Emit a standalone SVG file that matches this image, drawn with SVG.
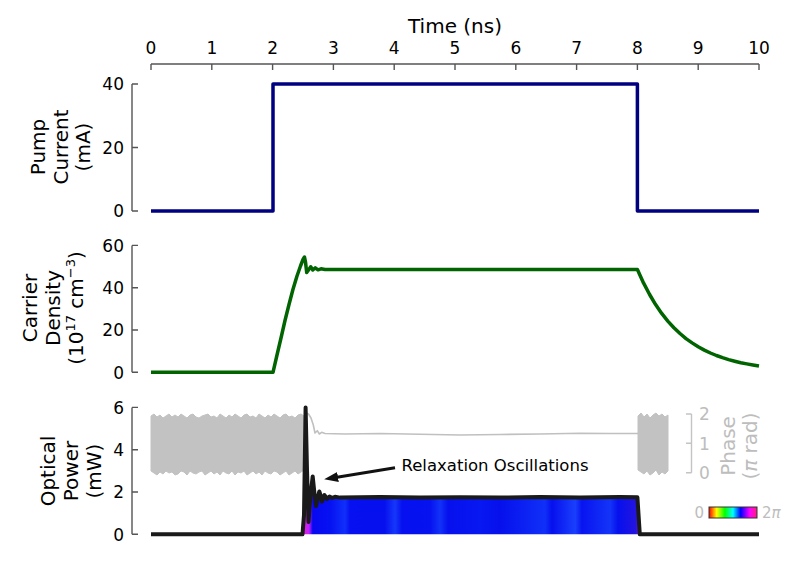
<svg xmlns="http://www.w3.org/2000/svg" width="788" height="563" viewBox="0 0 788 563">
<style>
text{font-family:"DejaVu Sans","Liberation Sans",sans-serif}
.tk{font-size:17px}
.lab{font-size:20px}
.blk{fill:#000}
.gray{fill:#bdbdbd}
.it{font-style:italic}
.ax{stroke:#555;stroke-width:1.4;fill:none}
.pax{stroke:#c4c4c4;stroke-width:1.4;fill:none}
.series{fill:none;stroke-linejoin:round;stroke-linecap:butt}
</style>
<defs>
<linearGradient id="blueFill" gradientUnits="userSpaceOnUse" x1="304" y1="0" x2="640" y2="0">
<stop offset="0" stop-color="#e020e0"/>
<stop offset="0.015" stop-color="#c020ff"/>
<stop offset="0.026" stop-color="#0808f0"/>
<stop offset="0.08" stop-color="#0612f2"/>
<stop offset="0.122" stop-color="#1030fa"/>
<stop offset="0.137" stop-color="#0610f0"/>
<stop offset="0.24" stop-color="#0610ee"/>
<stop offset="0.271" stop-color="#1638fa"/>
<stop offset="0.292" stop-color="#0610f0"/>
<stop offset="0.375" stop-color="#0612f0"/>
<stop offset="0.405" stop-color="#1232f8"/>
<stop offset="0.4286" stop-color="#0610ee"/>
<stop offset="0.524" stop-color="#0818f2"/>
<stop offset="0.583" stop-color="#0610ec"/>
<stop offset="0.717" stop-color="#1030f8"/>
<stop offset="0.738" stop-color="#0610ee"/>
<stop offset="0.807" stop-color="#1a40fc"/>
<stop offset="0.827" stop-color="#0814f0"/>
<stop offset="0.911" stop-color="#1434f8"/>
<stop offset="0.935" stop-color="#0610ee"/>
<stop offset="0.988" stop-color="#2414e0"/>
<stop offset="1" stop-color="#a020d0"/>
</linearGradient>
<linearGradient id="hsv" x1="0" y1="0" x2="1" y2="0">
<stop offset="0" stop-color="#ff0000"/>
<stop offset="0.16" stop-color="#ffff00"/>
<stop offset="0.33" stop-color="#00ff00"/>
<stop offset="0.5" stop-color="#00ffff"/>
<stop offset="0.66" stop-color="#0000ff"/>
<stop offset="0.85" stop-color="#ff00ff"/>
<stop offset="1" stop-color="#ff2080"/>
</linearGradient>
<marker id="arrowHead" markerUnits="userSpaceOnUse" markerWidth="14" markerHeight="10" viewBox="0 0 14 10" refX="1" refY="5" orient="auto">
<path d="M0,0 L14,5 L0,10 z" fill="#111"/>
</marker>
</defs>

<g id="top-axis">
<text class="lab blk" x="455" y="33" text-anchor="middle">Time (ns)</text>
<path class="ax" d="M151,64 H759 M151,64 V70 M211.8,64 V70 M272.6,64 V70 M333.4,64 V70 M394.2,64 V70 M455,64 V70 M515.8,64 V70 M576.6,64 V70 M637.4,64 V70 M698.2,64 V70 M759,64 V70"/>
<g class="tk blk" text-anchor="middle">
<text x="151" y="54">0</text><text x="211.8" y="54">1</text><text x="272.6" y="54">2</text><text x="333.4" y="54">3</text><text x="394.2" y="54">4</text><text x="455" y="54">5</text><text x="515.8" y="54">6</text><text x="576.6" y="54">7</text><text x="637.4" y="54">8</text><text x="698.2" y="54">9</text><text x="759" y="54">10</text>
</g>
</g>

<g id="panel-pump">
<path class="ax" d="M132,84 V211 M132,84 H138 M132,147.5 H138 M132,211 H138"/>
<g class="tk blk" text-anchor="end">
<text x="124" y="90.3">40</text><text x="124" y="153.8">20</text><text x="124" y="217.3">0</text>
</g>
<g class="lab blk" text-anchor="middle">
<text transform="translate(45,147) rotate(-90)">Pump</text>
<text transform="translate(67.5,147) rotate(-90)">Current</text>
<text transform="translate(90,147) rotate(-90)">(mA)</text>
</g>
<path class="series" stroke="#000080" stroke-width="3.5" d="M151,211 H273 V84 H637.4 V211 H759"/>
</g>

<g id="panel-carrier">
<path class="ax" d="M132,245.4 V372.3 M132,245.4 H138 M132,287.7 H138 M132,330 H138 M132,372.3 H138"/>
<g class="tk blk" text-anchor="end">
<text x="124" y="251.7">60</text><text x="124" y="294">40</text><text x="124" y="336.3">20</text><text x="124" y="378.6">0</text>
</g>
<g class="lab blk" text-anchor="middle">
<text transform="translate(36.5,308) rotate(-90)">Carrier</text>
<text transform="translate(59.5,308) rotate(-90)">Density</text>
<text transform="translate(82.5,308) rotate(-90)">(10<tspan font-size="13" dy="-8">17</tspan><tspan dy="8"> cm</tspan><tspan font-size="13" dy="-8">−3</tspan><tspan dy="8">)</tspan></text>
</g>
<path class="series" stroke="#006400" stroke-width="3.5" d="M151,372.3 L273,372.3 L277,355 L281,338 L285,320.5 L289,304.5 L293,289.3 L297,276 L300.5,266 L303,259.5 L304.5,257 L305.5,262 L306.7,272.5 L308.5,270 L310.7,266.8 L312.8,270 L315.3,267.8 L318,269.8 L321,268.8 L325,269.5 L637.4,269.5 L643.5,282.9 L649.6,294.5 L655.6,304.6 L661.7,313.4 L667.8,321.1 L673.9,327.7 L680,333.5 L686,338.6 L692.1,342.9 L698.2,346.8 L704.3,350.1 L710.4,353 L716.4,355.5 L722.5,357.7 L728.6,359.6 L734.7,361.2 L740.8,362.7 L746.8,363.9 L752.9,365 L759,366"/>
</g>

<g id="panel-optical">
<path class="ax" d="M132,407.4 V534.3 M132,407.4 H138 M132,449.7 H138 M132,492 H138 M132,534.3 H138"/>
<g class="tk blk" text-anchor="end">
<text x="124" y="413.7">6</text><text x="124" y="456">4</text><text x="124" y="498.3">2</text><text x="124" y="540.6">0</text>
</g>
<g class="lab blk" text-anchor="middle">
<text transform="translate(55,471) rotate(-90)">Optical</text>
<text transform="translate(78,471) rotate(-90)">Power</text>
<text transform="translate(101,471) rotate(-90)">(mW)</text>
</g>

<g id="phase-trace">
<path fill="#c2c2c2" stroke="#c2c2c2" stroke-width="1" d="M151,416 L154,414 L157,417 L160,415 L163,418 L166,416 L169,414 L172,417 L175,415 L178,417 L181,414 L184,416 L187,418 L190,415 L193,414 L196,417 L199,418 L202,416 L205,415 L208,414 L211,417 L214,416 L217,418 L220,414 L223,416 L226,418 L229,415 L232,417 L235,414 L238,416 L241,418 L244,415 L247,414 L250,417 L253,416 L256,418 L259,414 L262,416 L265,418 L268,415 L271,417 L274,414 L277,416 L280,418 L283,415 L286,414 L289,417 L292,416 L295,418 L298,415 L301,414 L304,416 L304,470 L301,472 L298,474 L295,471 L292,473 L289,475 L286,471 L283,473 L280,475 L277,472 L274,471 L271,474 L268,473 L265,471 L262,475 L259,472 L256,474 L253,471 L250,473 L247,475 L244,471 L241,473 L238,472 L235,475 L232,471 L229,474 L226,473 L223,471 L220,475 L217,472 L214,474 L211,471 L208,473 L205,475 L202,471 L199,472 L196,474 L193,473 L190,471 L187,475 L184,472 L181,471 L178,474 L175,475 L172,472 L169,473 L166,471 L163,474 L160,472 L157,475 L154,473 L151,471 Z"/>
<path fill="#c2c2c2" stroke="#c2c2c2" stroke-width="1" d="M638,416 L641,413 L644,417 L647,414 L650,418 L653,415 L656,413 L659,416 L662,414 L665,417 L668,415 L668,471 L665,474 L662,472 L659,475 L656,470 L653,473 L650,475 L647,471 L644,474 L641,472 L638,470 Z"/>
<path class="series" stroke="#c0c0c0" stroke-width="1.6" d="M304,440 L306,413 L308.5,414 L311,418 L313.3,425 L315,433 L317.3,430.7 L319.3,434 L321.7,432.3 L325,433.5 L345,434 L380,433.5 L420,434.3 L460,435 L500,434.5 L540,434 L580,433.2 L610,433.5 L638,433.5"/>
</g>

<g id="phase-axis">
<path class="pax" d="M691.5,414 V472.7 M686,414 H691.5 M686,443.3 H691.5 M686,472.7 H691.5"/>
<g class="tk gray">
<text x="699" y="420.3">2</text><text x="699" y="449.6">1</text><text x="699" y="479">0</text>
</g>
<g class="lab gray" text-anchor="middle">
<text transform="translate(735,446) rotate(-90)">Phase</text>
<text transform="translate(757,446) rotate(-90)">(<tspan class="it">π</tspan> rad)</text>
</g>
</g>

<g id="power-trace">
<path fill="url(#blueFill)" d="M304,534.3 L305.6,410 L308.5,522 L312.7,476.5 L316,506 L319.3,491.5 L322,501.5 L324.5,495 L327,499 L329.5,496.5 L332,497.8 L335,496.8 L637.4,497.3 L639.8,534.3 Z"/>
<path class="series" stroke="#1a1a1a" stroke-width="4" d="M151,534.3 L302.5,534.3 L304,515 L305.6,407.5 L307,470 L308.5,522 L310.5,495 L312.7,476.5 L314.5,494 L316,506 L317.8,498 L319.3,491.5 L320.8,496 L322,501.5 L323.3,498 L324.5,495 L325.8,497 L327,499 L328.3,497.5 L329.5,496.5 L332,497.8 L335,496.8 L340,497.6 L380,497.1 L420,497.6 L460,497.2 L500,497.6 L540,497.1 L580,497.5 L620,497.1 L637.4,497.3 L639.8,534.3 L759,534.3"/>
</g>

<g id="colorbar">
<rect x="709" y="507" width="48" height="11" fill="url(#hsv)" stroke="#333" stroke-width="1"/>
<text class="gray" x="704" y="517.5" font-size="15" text-anchor="end">0</text>
<text class="gray" x="762" y="517.5" font-size="15">2<tspan class="it">π</tspan></text>
</g>
</g>

<g id="connectors">
<line x1="395" y1="467.7" x2="337" y2="477.2" stroke="#111" stroke-width="3" marker-end="url(#arrowHead)"/>
</g>
<g id="annotation">
<text class="blk" x="401.5" y="471" font-size="16.5">Relaxation Oscillations</text>
</g>
</svg>
